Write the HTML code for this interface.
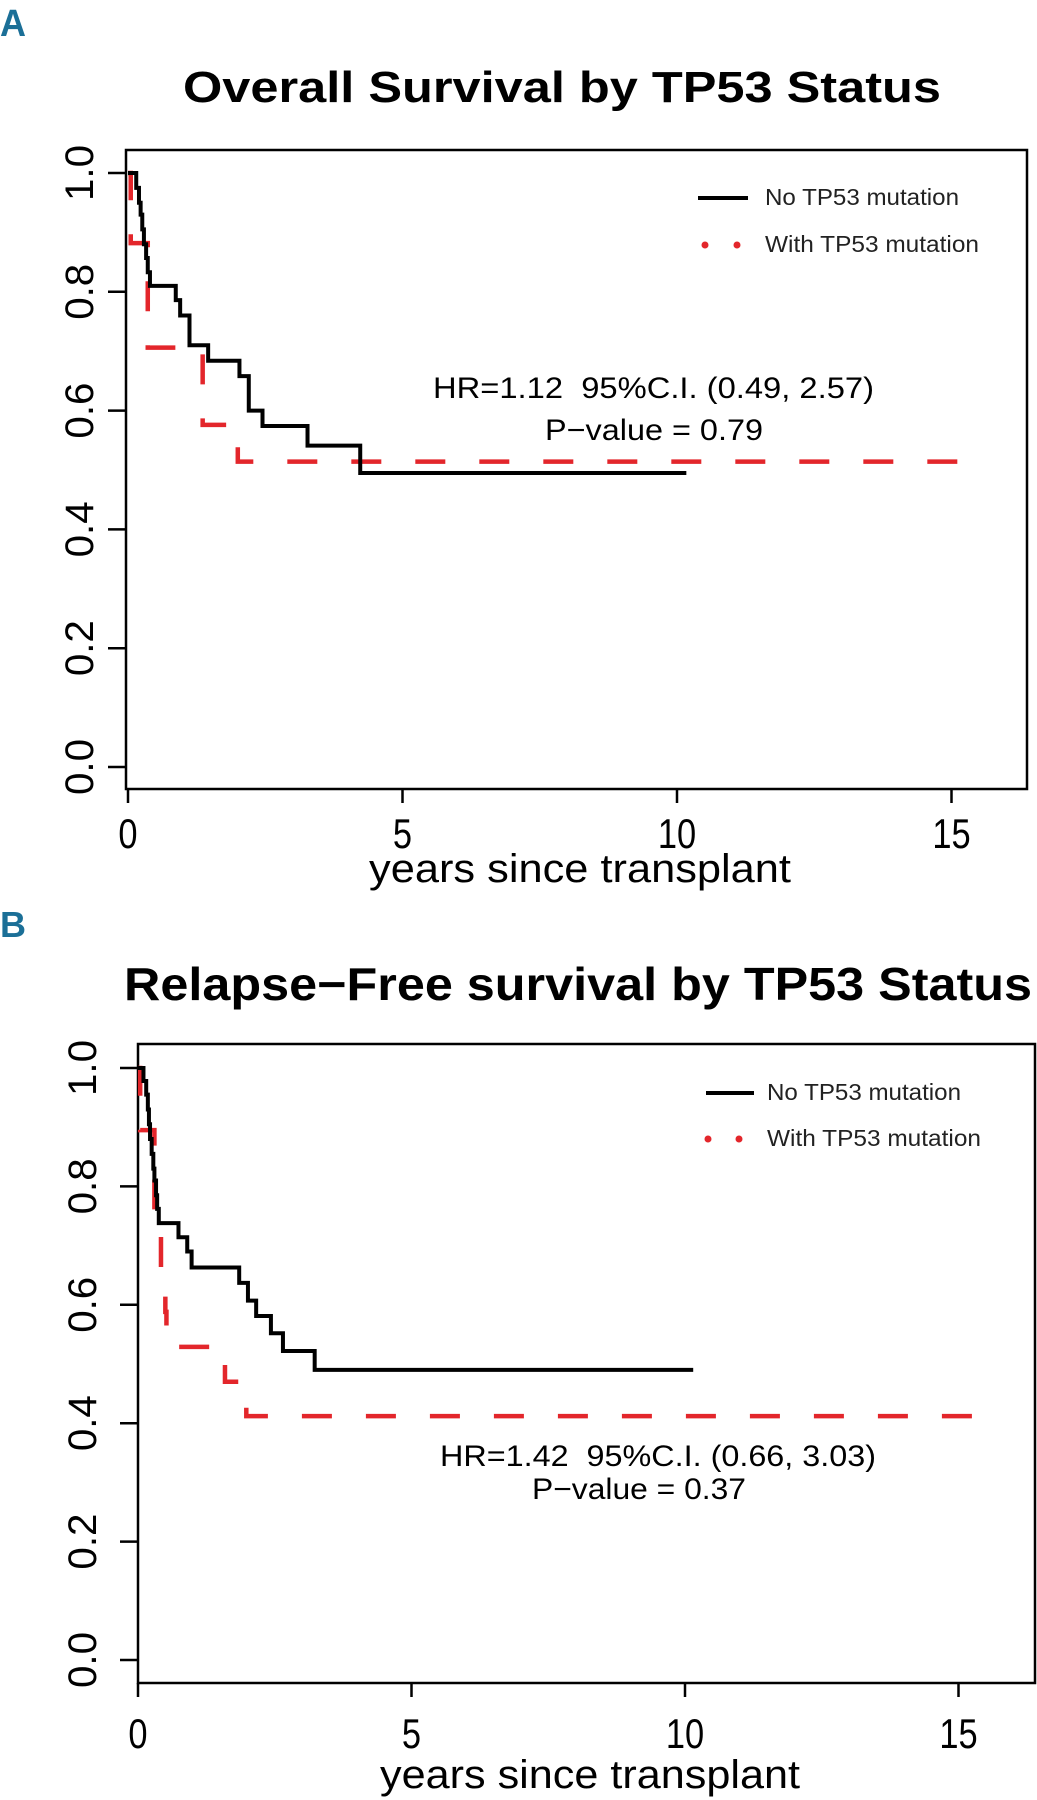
<!DOCTYPE html>
<html><head><meta charset="utf-8"><style>
html,body{margin:0;padding:0;background:#fff;}
svg{display:block;}
text{font-family:"Liberation Sans",Arial,sans-serif;}
</style></head><body>
<svg id="fig" width="1037" height="1800" viewBox="0 0 1037 1800" xmlns="http://www.w3.org/2000/svg">
<text x="0" y="36" font-size="38" font-weight="bold" fill="#1b6f97" textLength="26" lengthAdjust="spacingAndGlyphs">A</text>
<text x="0" y="937" font-size="36" font-weight="bold" fill="#1b6f97" textLength="26" lengthAdjust="spacingAndGlyphs">B</text>
<g id="pa"></g>
<g id="pb"></g>
</svg>
<script>
// Panel A data
const aBlackTimes = [0.15,0.2,0.23,0.26,0.29,0.33,0.36,0.4,0.87,0.95,1.12,1.46,2.03,2.2,2.45,3.27,4.23];
const aBlackSurv  = [0.975,0.95,0.93,0.905,0.88,0.857,0.833,0.81,0.786,0.76,0.71,0.684,0.658,0.6,0.574,0.541,0.495];
const aBlackEnd = 10.17;
const aRedTimes = [0.05,0.36,1.36,2.0];
const aRedSurv  = [0.882,0.706,0.576,0.514];
const aRedEnd = 15.47;
// Panel B data
const bBlackTimes = [0.1,0.15,0.18,0.2,0.22,0.25,0.28,0.3,0.33,0.35,0.38,0.74,0.9,0.98,1.85,2.01,2.16,2.43,2.65,3.23];
const bBlackSurv  = [0.978,0.955,0.93,0.905,0.88,0.855,0.83,0.81,0.785,0.762,0.738,0.714,0.69,0.663,0.637,0.607,0.581,0.552,0.522,0.49];
const bBlackEnd = 10.15;
const bRedTimes = [0.04,0.3,0.42,0.5,0.52,1.59,1.98];
const bRedSurv  = [0.895,0.765,0.647,0.588,0.529,0.47,0.412];
const bRedEnd = 15.5;
// Axis ticks
const xTicks = [0,5,10,15];
const yTicks = [0,0.2,0.4,0.6,0.8,1.0];
const yTickLabels = ["0.0","0.2","0.4","0.6","0.8","1.0"];

const NS="http://www.w3.org/2000/svg";
function mk(tag,attrs,parent){const e=document.createElementNS(NS,tag);for(const k in attrs)e.setAttribute(k,attrs[k]);parent.appendChild(e);return e;}

function panel(g,cfg){
  const X=t=>cfg.x0+cfg.xs*t, Y=v=>cfg.y0-cfg.ys*v;
  const box=mk('rect',{x:cfg.left,y:cfg.top,width:cfg.right-cfg.left,height:cfg.bottom-cfg.top,fill:'none',stroke:'#000','stroke-width':2.5},g);
  
  
  const title=mk('text',{x:cfg.titleX,y:cfg.titleY,'font-size':cfg.titleSize,'font-weight':'bold','text-anchor':'middle',textLength:cfg.titleW,lengthAdjust:'spacingAndGlyphs'},g);
  title.textContent=cfg.title;
  
  
  yTicks.forEach((v,i)=>{
    const l=mk('line',{x1:cfg.left-18,x2:cfg.left,y1:Y(v),y2:Y(v),stroke:'#000','stroke-width':2.5},g);
    
    
    const t=mk('text',{x:0,y:0,'font-size':40,'text-anchor':'middle',transform:`translate(${cfg.ylabX},${Y(v)}) rotate(-90)`,textLength:56,lengthAdjust:'spacingAndGlyphs'},g);
    t.textContent=yTickLabels[i];
    
    
  });
  xTicks.forEach(v=>{
    const l=mk('line',{x1:X(v),x2:X(v),y1:cfg.bottom,y2:cfg.bottom+14,stroke:'#000','stroke-width':2.5},g);
    
    
    const t=mk('text',{x:X(v),y:cfg.xlabY,'font-size':42,'text-anchor':'middle',transform:`translate(${X(v)},0) scale(0.82,1) translate(${-X(v)},0)`},g);
    t.textContent=String(v);
    
    
  });
  const xt=mk('text',{x:cfg.xTitleX,y:cfg.xTitleY,'font-size':40,textLength:cfg.xTitleW,lengthAdjust:'spacingAndGlyphs'},g);
  xt.textContent='years since transplant';
  
  
  function stepPath(times,surv,end){
    let d=`M${X(0)},${Y(1)}`;
    times.forEach((t,i)=>{d+=` H${X(t)} V${Y(surv[i])}`;});
    d+=` H${X(end)}`;return d;
  }
  const red=mk('path',{d:stepPath(cfg.rt,cfg.rs,cfg.re),fill:'none',stroke:'#e3262b','stroke-width':4.5,'stroke-dasharray':'30 34'},g);
  
  
  const blk=mk('path',{d:stepPath(cfg.bt,cfg.bs,cfg.be),fill:'none',stroke:'#000','stroke-width':4},g);
  
  
  const L=cfg.leg;
  const ll=mk('line',{x1:L.x1,x2:L.x2,y1:L.y1,y2:L.y1,stroke:'#000','stroke-width':4},g);
  
  
  const lt1=mk('text',{x:L.tx,y:L.y1+7,'font-size':23,textLength:194,lengthAdjust:'spacingAndGlyphs',fill:'#222'},g);
  lt1.textContent='No TP53 mutation';
  
  
  [L.d1,L.d2].forEach(dx=>{
    const c=mk('circle',{cx:dx,cy:L.y2,r:3.5,fill:'#e3262b'},g);
    
    
  });
  const lt2=mk('text',{x:L.tx,y:L.y2+7,'font-size':23,textLength:214,lengthAdjust:'spacingAndGlyphs',fill:'#222'},g);
  lt2.textContent='With TP53 mutation';
  
  
  const A=cfg.ann;
  const h=mk('text',{x:A.x1,y:A.y1,'font-size':30,textLength:A.w1,lengthAdjust:'spacingAndGlyphs'},g);
  h.textContent=cfg.hr;
  
  
  const p=mk('text',{x:A.x2,y:A.y2,'font-size':30,textLength:A.w2,lengthAdjust:'spacingAndGlyphs'},g);
  p.textContent=cfg.pv;
  
  
}

panel(document.getElementById('pa'),{
  x0:128,xs:54.9,y0:767,ys:594,left:126,right:1027,top:150,bottom:789,
  title:'Overall Survival by TP53 Status',titleX:562,titleY:102,titleSize:44,titleW:758,
  ylabX:93,xlabY:848,xTitleX:369,xTitleY:882,xTitleW:422,
  bt:aBlackTimes,bs:aBlackSurv,be:aBlackEnd,rt:aRedTimes,rs:aRedSurv,re:aRedEnd,
  leg:{x1:698,x2:748,y1:198,tx:765,d1:705,d2:737,y2:245},
  hr:'HR=1.12\u00a0\u00a095%C.I. (0.49, 2.57)',pv:'P\u2212value = 0.79',
  ann:{x1:433,y1:398,w1:441,x2:545,y2:440,w2:218}
});
panel(document.getElementById('pb'),{
  x0:138,xs:54.7,y0:1660,ys:592,left:138,right:1035,top:1044,bottom:1683,
  title:'Relapse\u2212Free survival by TP53 Status',titleX:578,titleY:1000,titleSize:46,titleW:908,
  ylabX:96,xlabY:1748,xTitleX:380,xTitleY:1788,xTitleW:420,
  bt:bBlackTimes,bs:bBlackSurv,be:bBlackEnd,rt:bRedTimes,rs:bRedSurv,re:bRedEnd,
  leg:{x1:706,x2:754,y1:1093,tx:767,d1:708,d2:739,y2:1139},
  hr:'HR=1.42\u00a0\u00a095%C.I. (0.66, 3.03)',pv:'P\u2212value = 0.37',
  ann:{x1:440,y1:1466,w1:436,x2:532,y2:1499,w2:214}
});
</script>
</body></html>
